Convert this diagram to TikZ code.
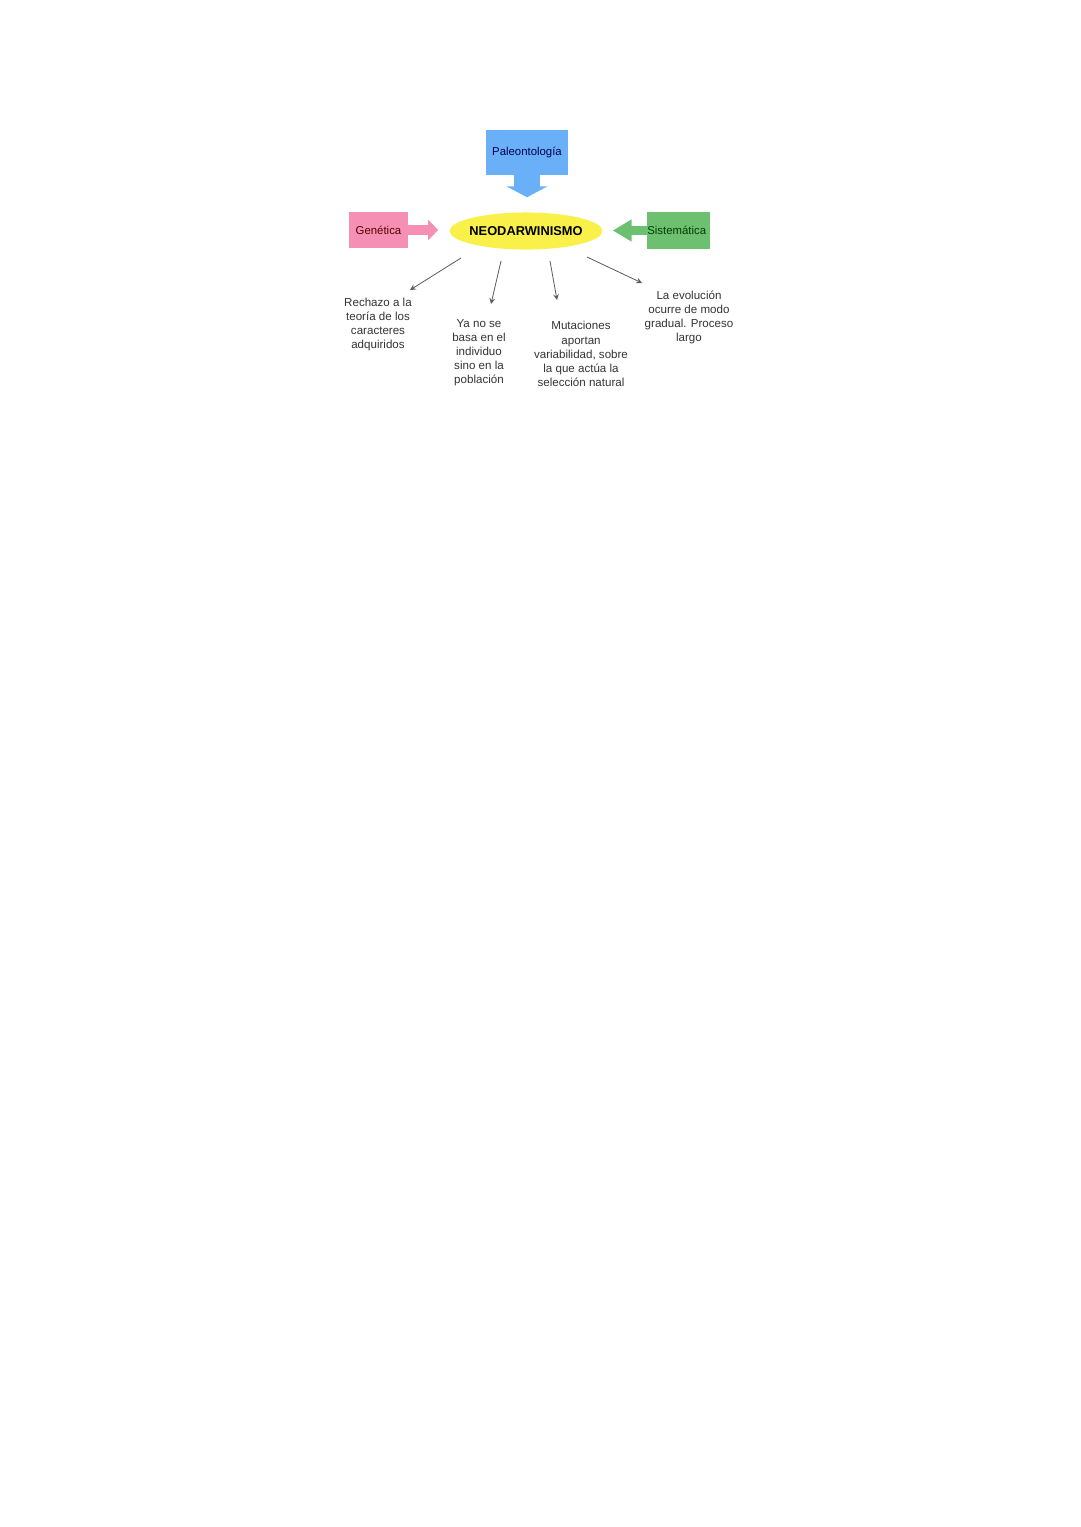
\documentclass[tikz,border=0pt]{standalone}
\usepackage{fontspec}
\setmainfont{Liberation Sans}
\usepackage{tikz}
\usetikzlibrary{shapes.geometric, arrows, arrows.meta}
\definecolor{paleoblue}{HTML}{6AB0F8}
\definecolor{genpink}{HTML}{F590B4}
\definecolor{sisgreen}{HTML}{6CC070}
\definecolor{neoyellow}{HTML}{FAF04A}
\definecolor{txtgrey}{HTML}{333333}
\tikzstyle{center} = [ellipse, 
minimum width=84pt, 
minimum height=20.5pt,
inner xsep=-1.4pt,
inner ysep=0pt,
fill=neoyellow,
font=\fontsize{7.1}{8}\selectfont\bfseries]
\tikzstyle{field} = [rectangle, 
inner sep=0pt,
text centered, 
font=\fontsize{6.3}{7.5}\selectfont]
\tikzstyle{idea} = [align=center, 
inner sep=0pt,
text=txtgrey,
font=\fontsize{6.4}{7.8}\selectfont]
\tikzstyle{line} = [line width=0.45pt, draw=txtgrey!80, ->, >=stealth]

\begin{document}
\begin{tikzpicture}[x=0.019444cm, y=-0.019444cm]
\useasboundingbox (0,0) rectangle (1080,1527);
\node (neo) [center] at (526,231) {NEODARWINISMO};
\node (paleo) [field, fill=paleoblue, text=blue!30!black, minimum width=45.2pt, minimum height=24.8pt] at (527,152.5) {Paleontología};
\node (genetica) [field, fill=genpink, text=red!35!black, minimum width=32.5pt, minimum height=19.8pt] at (378.5,230) {Genética};
\node (sistematica) [field, fill=sisgreen, text=green!25!black, minimum width=34.7pt, minimum height=20.4pt] at (678.5,230.5) {\hspace*{-2pt}Sistemática};

\node (rechazo) [idea] at (378,324.5) {Rechazo a la\\teoría de los\\caracteres\\adquiridos};
\node (individuo) [idea] at (479,352.5) {Ya no se\\basa en el\\individuo\\sino en la\\población};
\node (mutaciones) [idea] at (581,354) {Mutaciones\\aportan\\variabilidad, sobre\\la que actúa la\\selección natural};
\node (evolucion) [idea] at (689,317.5) {La evolución\\ocurre de modo\\gradual. Proceso\\largo};

% flechas gruesas hacia el centro
\draw [line width=14.3pt, paleoblue, -{Triangle[width=22.6pt 0 0, length=6.1pt 0 0]}, shorten >=8.2pt] (paleo.south) -- (paleo.south |- neo.north);
\draw [line width=5.5pt, genpink, -{Triangle[width=11pt 0 0, length=5.5pt 0 0]}, shorten >=6.1pt] (genetica.east) -- (genetica.east -| neo.west);
\draw [line width=5.5pt, sisgreen, -{Triangle[width=11.6pt 0 0, length=10.5pt 0 0]}, shorten >=5.5pt] (sistematica.west) -- (sistematica.west -| neo.east);

% flechas finas hacia las ideas
\coordinate (s1) at (461,258);
\coordinate (e1) at (410,290);
\coordinate (s2) at (501,261);
\coordinate (e2) at (491,304);
\coordinate (s3) at (550,261);
\coordinate (e3) at (557,300);
\coordinate (s4) at (587,257);
\coordinate (e4) at (642,283);
\draw [line] (s1) -- (e1);
\draw [line] (s2) -- (e2);
\draw [line] (s3) -- (e3);
\draw [line] (s4) -- (e4);

\end{tikzpicture}
\end{document}
